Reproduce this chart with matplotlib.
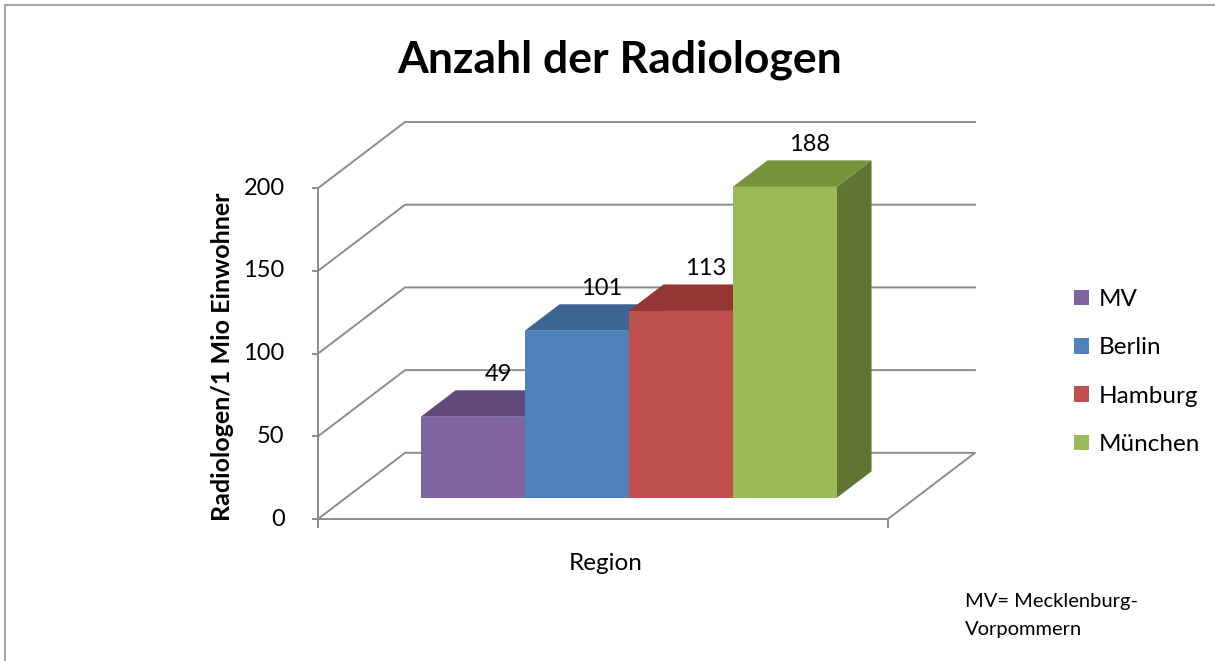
import matplotlib
matplotlib.use("Agg")
import matplotlib.pyplot as plt
from matplotlib.patches import Polygon, Patch
from matplotlib.lines import Line2D

plt.rcParams['font.family'] = ['Lato', 'DejaVu Sans']

# data
regions = ['MV', 'Berlin', 'Hamburg', 'München']
values = [49, 101, 113, 188]
yticks = [0, 50, 100, 150, 200]
front_colors = ['#8064A2', '#4F81BD', '#C0504D', '#9BBB59']
top_colors = ['#604A7B', '#3C6494', '#943634', '#77933C']
side_colors = ['#4E3D66', '#2F4F75', '#772B29', '#5F7530']

# fake 3d geometry (in data units)
DX, DY = 0.837, 40.0      # offset from front to back wall
floor_w = 5.48
d0, d1 = 0.32, 0.72       # bar front / back depth
bar_start, bar_w = 0.72, 1.0
grid_c = '#8C8C8C'

W, H = 1215, 661
fig = plt.figure(figsize=(W / 100, H / 100), dpi=100)

# axes placed so 1 x-unit = 104 px, 1 value unit = 1.654 px
px_l, px_r, px_b, px_t = 318, 975, 519, 122
ax = fig.add_axes([px_l / W, (H - px_b) / H, (px_r - px_l) / W, (px_b - px_t) / H])
ax.set_xlim(0, (px_r - px_l) / 104)
ax.set_ylim(0, 200 + DY)
ax.axis('off')


def P(x, v, d):
    return (x + d * DX, v + d * DY)


# walls / gridlines
for t in yticks:
    pts = [P(0, t, 0), P(0, t, 1), P(floor_w, t, 1)]
    if t == 0:
        pts += [P(floor_w, 0, 0), P(0, 0, 0)]
    ax.add_line(Line2D([p[0] for p in pts], [p[1] for p in pts], color=grid_c,
                       lw=1.4, clip_on=False, zorder=1))
    x0, y0 = P(0, t, 0)
    ax.add_line(Line2D([x0 - 0.05, x0], [y0, y0], color=grid_c, lw=1.4, clip_on=False))
    ax.annotate(str(t), (x0, y0), xytext=(-24, 0), textcoords='offset points',
                ha='right', va='center', fontsize=17, annotation_clip=False)

ax.add_line(Line2D([0, 0], [0, 200], color=grid_c, lw=1.4, clip_on=False))
for xx in [0, floor_w]:
    ax.add_line(Line2D([xx, xx], [0, -5], color=grid_c, lw=1.4, clip_on=False))

# bars
for i, (v, fc, tc, sc) in enumerate(zip(values, front_colors, top_colors, side_colors)):
    left = bar_start + i * bar_w
    right = left + bar_w
    z = 3 + i
    side = [P(right, 0, d0), P(right, 0, d1), P(right, v, d1), P(right, v, d0)]
    top = [P(left, v, d0), P(right, v, d0), P(right, v, d1), P(left, v, d1)]
    ax.add_patch(Polygon(side, closed=True, facecolor=sc, edgecolor='none', zorder=z, clip_on=False))
    ax.add_patch(Polygon(top, closed=True, facecolor=tc, edgecolor='none', zorder=z, clip_on=False))
    fx, fy = P(left, 0, d0)
    ax.bar(fx, v, width=bar_w, bottom=fy, align='edge', color=fc, zorder=z + 0.5, clip_on=False)
    lx, ly = P(left + bar_w / 2, v, d0 + 0.29)
    ax.annotate(str(v), (lx, v + d1 * DY), xytext=(0, 4), textcoords='offset points',
                ha='center', va='bottom', fontsize=17, zorder=10, annotation_clip=False)

# texts
fig.text(620 / W, 1 - 60 / H, 'Anzahl der Radiologen', ha='center', va='center',
         fontsize=32, fontweight='bold')
fig.text(222 / W, 1 - 357 / H, 'Radiologen/1 Mio Einwohner', rotation=90, ha='center',
         va='center', fontsize=18, fontweight='bold')
fig.text(606 / W, 1 - 563 / H, 'Region', ha='center', va='center', fontsize=17.5)
fig.text(965 / W, 1 - 602 / H, 'MV= Mecklenburg-', ha='left', va='center', fontsize=14.5)
fig.text(965 / W, 1 - 630 / H, 'Vorpommern', ha='left', va='center', fontsize=14.5)

handles = [Patch(facecolor=c, edgecolor='none') for c in front_colors]
fig.legend(handles, regions, loc='upper left', bbox_to_anchor=(1062 / W, 1 - 277 / H),
           frameon=False, fontsize=17.5, handlelength=0.6, handleheight=0.6,
           handletextpad=0.4, labelspacing=1.12, borderpad=0)

# outer frame (top and left edges)
fig.add_artist(Line2D([5 / W, 1], [1 - 5 / H, 1 - 5 / H], color='#A6A6A6', lw=1.5))
fig.add_artist(Line2D([5 / W, 5 / W], [0, 1 - 5 / H], color='#A6A6A6', lw=1.5))

fig.savefig('out.png', dpi=100, facecolor='white')
